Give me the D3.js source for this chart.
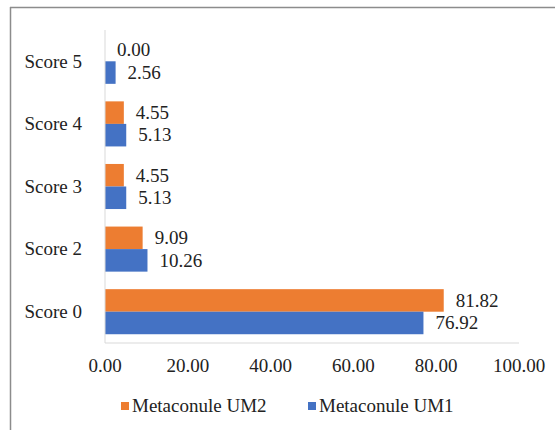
<!DOCTYPE html>
<html><head><meta charset="utf-8">
<script src="https://cdn.jsdelivr.net/npm/d3@7"></script>
<style>body{margin:0;background:#fff}svg{display:block}</style>
</head><body>
<script>
const categories = ["Score 0", "Score 2", "Score 3", "Score 4", "Score 5"];
const seriesNames = ["Metaconule UM2", "Metaconule UM1"];
const um2 = [81.82, 9.09, 4.55, 4.55, 0.00];
const um1 = [76.92, 10.26, 5.13, 5.13, 2.56];
const xTicks = [0, 20, 40, 60, 80, 100];
const colors = ["#ED7D31", "#4472C4"];

(function () {
const W = 555, H = 430;
const svg = d3.select("body").append("svg").attr("width", W).attr("height", H);
const font = "'Liberation Serif', 'Times New Roman', serif";
const fs = 19;

// frame
svg.append("line").attr("x1", 10).attr("x2", W).attr("y1", 7.5).attr("y2", 7.5).attr("stroke", "#8c8c8c").attr("stroke-width", 1.5);
svg.append("line").attr("x1", 10.5).attr("x2", 10.5).attr("y1", 7).attr("y2", H).attr("stroke", "#8c8c8c").attr("stroke-width", 1.5);

const pL = 105, pR = 519, pT = 30, pB = 343;
const x = d3.scaleLinear().domain([0, 100]).range([pL, pR]);
const y = d3.scaleBand().domain(categories).range([pB, pT]).paddingInner(0.28).paddingOuter(0.14);
const sub = d3.scaleBand().domain([0, 1]).range([0, y.bandwidth()]);

const series = [um2, um1];
series.forEach((vals, s) => {
  const g = svg.append("g");
  g.selectAll("rect").data(categories).join("rect")
    .attr("x", x(0)).attr("y", (c) => y(c) + sub(s))
    .attr("width", (c, i) => x(vals[i]) - x(0)).attr("height", sub.bandwidth())
    .attr("fill", colors[s]);
  g.selectAll("text").data(categories).join("text")
    .attr("x", (c, i) => x(vals[i]) + 12).attr("y", (c) => y(c) + sub(s) + sub.bandwidth() / 2)
    .attr("dy", "0.33em").attr("font-family", font).attr("font-size", fs).attr("fill", "#222")
    .text((c, i) => vals[i].toFixed(2));
});

// axes lines
svg.append("line").attr("x1", x(0)).attr("x2", x(0)).attr("y1", pT).attr("y2", pB).attr("stroke", "#d9d9d9");
svg.append("line").attr("x1", x(0)).attr("x2", x(100)).attr("y1", pB).attr("y2", pB).attr("stroke", "#d9d9d9");

// y labels
svg.append("g").selectAll("text").data(categories).join("text")
  .attr("x", 82).attr("y", (c) => y(c) + y.bandwidth() / 2).attr("dy", "0.33em")
  .attr("text-anchor", "end").attr("font-family", font).attr("font-size", fs).attr("fill", "#222")
  .text((c) => c);

// x tick labels
svg.append("g").selectAll("text").data(xTicks).join("text")
  .attr("x", (d) => x(d)).attr("y", 366).attr("dy", "0.33em")
  .attr("text-anchor", "middle").attr("font-family", font).attr("font-size", fs).attr("fill", "#222")
  .text((d) => d.toFixed(2));

// legend
const legX = [121, 308];
seriesNames.forEach((n, i) => {
  svg.append("rect").attr("x", legX[i]).attr("y", 402).attr("width", 8).attr("height", 8).attr("fill", colors[i]);
  svg.append("text").attr("x", legX[i] + 11).attr("y", 406).attr("dy", "0.33em")
    .attr("font-family", font).attr("font-size", fs).attr("fill", "#222").text(n);
});
})();
</script>
</body></html>
